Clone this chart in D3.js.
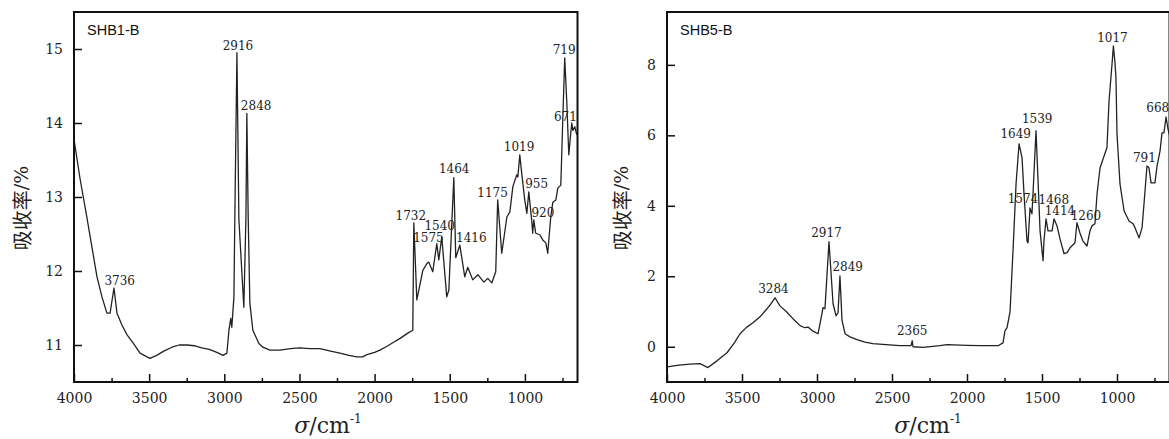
<!DOCTYPE html>
<html lang="zh">
<head>
<meta charset="UTF-8">
<title>SHB1-B / SHB5-B FTIR</title>
<script src="https://cdn.jsdelivr.net/npm/d3@7"></script>
<style>
  body { margin: 0; background: #fff; }
  svg { display: block; }
  .tick text { font-family: "DejaVu Serif", serif; font-size: 14px; fill: #222; }
</style>
</head>
<body>
<svg id="svg"></svg>
<script>
var WIDTH = 1169;
var HEIGHT = 439;

// SHB1-B spectrum (wavenumber, absorbance %)
var wn1 = [4000, 3960, 3914, 3847, 3814, 3781, 3760, 3734, 3714, 3681, 3648, 3607, 3561, 3495, 3450, 3400, 3348, 3300, 3250, 3200,
           3150, 3100, 3050, 3009, 2983, 2969, 2957, 2950, 2936, 2930, 2916, 2903, 2870, 2856, 2850, 2841, 2830, 2810, 2770, 2743,
           2697, 2630, 2560, 2497, 2430, 2364, 2300, 2231, 2170, 2118, 2080, 2051, 2000, 1965, 1920, 1879, 1830, 1779, 1746, 1739,
           1719, 1679, 1652, 1639, 1613, 1586, 1573, 1553, 1520, 1506, 1473, 1460, 1433, 1400, 1380, 1347, 1313, 1273, 1247, 1220,
           1194, 1181, 1154, 1120, 1100, 1080, 1054, 1047, 1034, 1021, 1001, 987, 974, 955, 948, 941, 928, 901, 881, 861,
           848, 828, 814, 794, 781, 761, 748, 735, 721, 708, 695, 688, 681, 668, 655];
var ab1 = [13.78, 13.25, 12.72, 11.92, 11.65, 11.43, 11.43, 11.77, 11.43, 11.27, 11.14, 11.03, 10.89, 10.82, 10.86, 10.92, 10.97, 11.0, 11.0, 10.99,
           10.96, 10.94, 10.9, 10.86, 10.89, 11.2, 11.36, 11.24, 11.65, 12.7, 14.95, 12.7, 11.51, 12.73, 14.13, 12.73, 11.57, 11.2, 11.02, 10.97,
           10.93, 10.93, 10.95, 10.96, 10.95, 10.95, 10.92, 10.89, 10.86, 10.84, 10.84, 10.87, 10.9, 10.93, 10.98, 11.03, 11.09, 11.16, 11.2, 12.65,
           11.61, 12.01, 12.1, 12.12, 11.99, 12.37, 12.15, 12.46, 11.65, 11.74, 13.26, 12.18, 12.35, 11.92, 12.05, 11.88, 11.95, 11.85, 11.9, 11.84,
           11.99, 12.96, 12.24, 12.73, 12.8, 13.14, 13.3, 13.27, 13.57, 13.32, 12.96, 12.78, 13.07, 12.69, 12.51, 12.69, 12.51, 12.49, 12.42, 12.38,
           12.24, 12.73, 12.93, 12.96, 13.12, 13.16, 14.04, 14.88, 14.27, 13.57, 13.86, 14.0, 13.9, 13.95, 13.84];

// SHB5-B spectrum
var wn2 = [4000, 3920, 3847, 3780, 3727, 3667, 3600, 3550, 3513, 3470, 3427, 3380, 3333, 3310, 3280, 3247, 3200, 3150, 3113, 3080,
           3060, 3033, 2993, 2967, 2960, 2947, 2920, 2893, 2873, 2860, 2847, 2833, 2813, 2780, 2733, 2680, 2627, 2540, 2447, 2373,
           2365, 2360, 2293, 2180, 2133, 2000, 1913, 1793, 1760, 1747, 1733, 1713, 1693, 1673, 1653, 1633, 1620, 1600, 1593, 1580,
           1567, 1560, 1540, 1527, 1513, 1493, 1487, 1473, 1460, 1433, 1420, 1400, 1380, 1353, 1333, 1313, 1280, 1267, 1247, 1227,
           1200, 1180, 1167, 1147, 1133, 1113, 1093, 1067, 1053, 1033, 1024, 1013, 1007, 1000, 980, 953, 920, 893, 880, 853,
           833, 820, 800, 787, 773, 747, 733, 713, 700, 687, 673, 660, 650];
var ab2 = [-0.57, -0.52, -0.49, -0.48, -0.59, -0.4, -0.17, 0.12, 0.37, 0.55, 0.68, 0.85, 1.08, 1.2, 1.39, 1.16, 0.98, 0.75, 0.6, 0.54,
           0.56, 0.46, 0.37, 0.94, 1.11, 1.08, 2.98, 1.22, 0.88, 0.96, 2.01, 0.74, 0.37, 0.28, 0.2, 0.13, 0.09, 0.06, 0.03, 0.03,
           0.17, 0.0, -0.02, 0.03, 0.06, 0.04, 0.03, 0.03, 0.11, 0.45, 0.54, 1.0, 2.75, 4.62, 5.76, 5.36, 4.34, 3.0, 2.95, 3.94,
           3.77, 4.34, 6.13, 4.79, 3.29, 2.44, 3.0, 3.63, 3.29, 3.29, 3.63, 3.43, 3.06, 2.64, 2.67, 2.81, 2.95, 3.52, 3.23, 3.0,
           2.86, 3.29, 3.43, 3.49, 4.34, 5.08, 5.33, 5.65, 6.98, 8.03, 8.54, 8.03, 7.63, 6.04, 4.62, 3.86, 3.57, 3.49, 3.38, 3.09,
           3.38, 4.06, 5.13, 5.08, 4.65, 4.65, 5.13, 5.56, 6.07, 6.07, 6.52, 6.18, 6.0];

// peak labels and the height of the peak they mark
var peaks1 = ["3736", "2916", "2848", "1732", "1575", "1540", "1464", "1416", "1175", "1019", "955", "920", "719", "671"];
var peakY1 = [11.77, 14.95, 14.13, 12.65, 12.37, 12.46, 13.26, 12.35, 12.96, 13.57, 13.07, 12.69, 14.88, 14.0];
var peaks2 = ["3284", "2917", "2849", "2365", "1649", "1539", "1574", "1468", "1414", "1260", "1017", "791", "668"];
var peakY2 = [1.39, 2.98, 2.01, 0.17, 5.76, 6.13, 3.94, 3.63, 3.63, 3.52, 8.54, 5.13, 6.52];

var xTicks = [4000, 3500, 3000, 2500, 2000, 1500, 1000];
var xMinor = [3750, 3250, 2750, 2250, 1750, 1250, 750];
var yTicks1 = [11, 12, 13, 14, 15];
var yTicks2 = [0, 2, 4, 6, 8];

// label nudges (px) so the text sits like in the figure
var nudge1 = [[6,-3],[1,-3],[9,-3],[-4,-3],[-10,-2],[-4,-7],[-1,-5],[9,-3],[-6,-3],[-3,-4],[5,-4],[6,-3],[-3,-4],[-9,-2]];
var nudge2 = [[-1,-5],[-3,-5],[8,-5],[0,-6],[-4,-6],[1,-8],[-8,-5],[7,-15],[5,-4],[8,-3],[-2,-4],[-4,-4],[-9,-5]];

var svg = d3.select("#svg")
            .attr("width", WIDTH)
            .attr("height", HEIGHT)
            .style("background", "#fff");

function drawPanel(p) {
    var xScale = d3.scaleLinear().domain([4000, 650]).range([p.left, p.right]);
    var yScale = d3.scaleLinear().domain(p.yDomain).range([382, 12]);

    var g = svg.append("g");

    g.append("clipPath")
     .attr("id", p.id + "clip")
     .append("rect")
     .attr("x", p.left).attr("y", 12)
     .attr("width", p.right - p.left).attr("height", 370);

    // axes (ticks inward)
    g.append("g")
     .attr("transform", "translate(0,382)")
     .call(d3.axisBottom(xScale).tickValues(xTicks).tickSize(-8).tickPadding(11).tickFormat(d3.format("d")))
     .call(function(a){ a.select(".domain").remove(); a.selectAll("line").attr("stroke", "#111").attr("stroke-width", 1.5); });

    g.append("g")
     .attr("transform", "translate(0,382)")
     .call(d3.axisBottom(xScale).tickValues(xMinor).tickSize(-4).tickFormat(""))
     .call(function(a){ a.select(".domain").remove(); a.selectAll("line").attr("stroke", "#111").attr("stroke-width", 1.5); });

    g.append("g")
     .attr("transform", "translate(" + p.left + ",0)")
     .call(d3.axisLeft(yScale).tickValues(p.yTicks).tickSize(-8).tickPadding(11).tickFormat(d3.format("d")))
     .call(function(a){ a.select(".domain").remove(); a.selectAll("line").attr("stroke", "#111").attr("stroke-width", 1.5); });

    // spectrum
    var pts = p.wn.map(function(w, i){ return [w, p.ab[i]]; });
    g.append("path")
     .datum(pts)
     .attr("clip-path", "url(#" + p.id + "clip)")
     .attr("fill", "none")
     .attr("stroke", "#222")
     .attr("stroke-width", 1.3)
     .attr("stroke-linejoin", "round")
     .attr("d", d3.line()
                  .x(function(d){ return xScale(d[0]); })
                  .y(function(d){ return yScale(d[1]); }));

    // frame
    g.append("rect")
     .attr("x", p.left).attr("y", 12)
     .attr("width", p.right - p.left).attr("height", 370)
     .attr("fill", "none")
     .attr("stroke", "#111")
     .attr("stroke-width", 2);

    // peak labels
    g.append("g")
     .selectAll("text")
     .data(p.peaks)
     .enter()
     .append("text")
     .attr("x", function(d, i){ return xScale(+d) + p.nudge[i][0]; })
     .attr("y", function(d, i){ return yScale(p.peakY[i]) + p.nudge[i][1]; })
     .attr("text-anchor", "middle")
     .attr("font-family", "DejaVu Serif, serif")
     .attr("font-size", 12)
     .attr("fill", "#222")
     .text(function(d){ return d; });

    // sample name
    g.append("text")
     .attr("x", p.left + 13)
     .attr("y", 35)
     .attr("font-family", "Liberation Sans, Arial, sans-serif")
     .attr("font-size", 14.5)
     .attr("fill", "#111")
     .text(p.name);

    // y title
    var yt = g.append("text")
              .attr("transform", "translate(" + p.titleX + ",208) rotate(-90)")
              .attr("text-anchor", "middle")
              .attr("dominant-baseline", "central")
              .attr("fill", "#222");
    yt.append("tspan").attr("font-family", "Noto Sans CJK SC").attr("font-size", 20).text("吸收率");
    yt.append("tspan").attr("font-family", "DejaVu Serif, serif").attr("font-size", 19).text("/%");

    // x title
    var xt = g.append("text")
              .attr("x", xScale(p.titleWn))
              .attr("y", 433)
              .attr("text-anchor", "middle")
              .attr("font-family", "DejaVu Serif, serif")
              .attr("font-size", 22)
              .attr("fill", "#222");
    xt.append("tspan").attr("font-style", "italic").text("σ");
    xt.append("tspan").text("/cm");
    xt.append("tspan").attr("font-size", 12).attr("dy", -10).text("-1");
}

drawPanel({id: "p1", name: "SHB1-B", left: 74, right: 577.5, yDomain: [10.5, 15.5], yTicks: yTicks1,
           wn: wn1, ab: ab1, peaks: peaks1, peakY: peakY1, nudge: nudge1, titleX: 21, titleWn: 2310});
drawPanel({id: "p2", name: "SHB5-B", left: 667, right: 1169.5, yDomain: [-1, 9.5], yTicks: yTicks2,
           wn: wn2, ab: ab2, peaks: peaks2, peakY: peakY2, nudge: nudge2, titleX: 621, titleWn: 2260});
</script>
</body>
</html>
